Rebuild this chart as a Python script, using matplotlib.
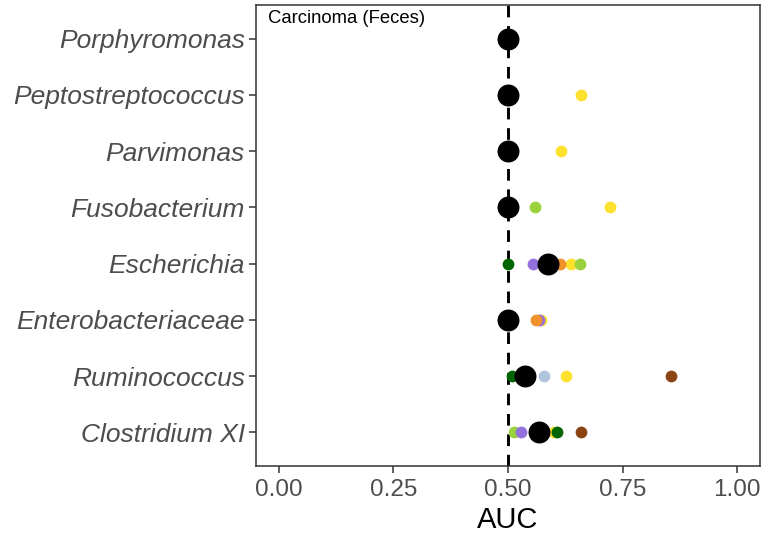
import numpy as np
import matplotlib
matplotlib.use("Agg")
from matplotlib import pyplot as plt

nan = np.nan

genera = ["Porphyromonas", "Peptostreptococcus", "Parvimonas", "Fusobacterium",
          "Escherichia", "Enterobacteriaceae", "Ruminococcus", "Clostridium XI"]

# pooled AUC (big black dots)
pooled_auc = [0.50, 0.50, 0.50, 0.50, 0.587, 0.50, 0.538, 0.567]

# per-study AUCs (small coloured dots), one list per study
study_brown = [nan, nan, nan, nan, nan, nan, 0.856, 0.659]
study_lightblue = [nan, nan, nan, nan, nan, nan, 0.578, nan]
study_yellow = [nan, 0.660, 0.616, 0.722, 0.638, 0.572, 0.626, 0.600]
study_lightgreen = [nan, nan, nan, 0.559, 0.658, nan, nan, 0.513]
study_purple = [nan, nan, nan, nan, 0.554, 0.567, nan, 0.528]
study_orange = [nan, nan, nan, nan, 0.613, 0.562, nan, nan]
study_darkgreen = [nan, nan, nan, nan, 0.500, nan, 0.509, 0.606]

studies = [
    (study_brown, "#8B4513"),
    (study_lightblue, "#B0C4DE"),
    (study_yellow, "#FDE12D"),
    (study_lightgreen, "#99D23C"),
    (study_purple, "#9370DB"),
    (study_orange, "#F0922B"),
    (study_darkgreen, "#006400"),
]

plt.rcParams["font.family"] = ["Liberation Sans", "DejaVu Sans"]

fig = plt.figure(figsize=(7.65, 5.4), dpi=100)
ax = fig.add_axes([0.3346, 0.137, 0.6589, 0.8537])

ypos = np.arange(len(genera))[::-1] + 1

ax.axvline(0.5, color="black", linestyle=(0, (4, 3)), linewidth=2.1, zorder=1)

for vals, col in studies:
    ax.scatter(vals, ypos, s=72, color=col, linewidths=0, zorder=2)

ax.scatter(pooled_auc, ypos, s=250, color="black", linewidths=0, zorder=3)

ax.set_xlim(-0.05, 1.05)
ax.set_ylim(0.4, len(genera) + 0.6)
ax.set_xticks([0, 0.25, 0.5, 0.75, 1.0])
ax.set_xticklabels(["0.00", "0.25", "0.50", "0.75", "1.00"])
ax.set_yticks(ypos)
ax.set_yticklabels(genera, fontstyle="italic", fontsize=19)

ax.tick_params(axis="both", colors="#333333", length=5, width=1.1,
               labelcolor="#4D4D4D", pad=3)
ax.tick_params(axis="x", labelsize=17.5, pad=4)
for sp in ax.spines.values():
    sp.set_color("#333333")
    sp.set_linewidth(1.1)

ax.set_xlabel("AUC", fontsize=21, color="black", labelpad=4)

ax.text(0.024, 0.99, "Carcinoma (Feces)", transform=ax.transAxes,
        ha="left", va="top", fontsize=13.3, color="black")

fig.savefig("out.png", dpi=100)
